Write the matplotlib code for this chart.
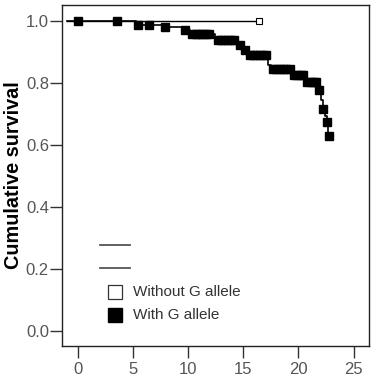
import numpy as np
import matplotlib.pyplot as plt

plt.rcParams['font.family'] = ['Liberation Sans', 'DejaVu Sans']

# Kaplan-Meier step data, "With G allele"
g_times = [-1.0, 5.3, 7.7, 9.5, 10.2, 12.4, 14.5, 15.0, 15.4, 17.2, 17.5, 19.3,
           20.6, 21.8, 22.0, 22.2, 22.4, 22.6, 22.7]
g_surv = [1.0, 0.987, 0.980, 0.971, 0.958, 0.939, 0.923, 0.906, 0.890, 0.858,
          0.844, 0.826, 0.804, 0.777, 0.745, 0.716, 0.695, 0.675, 0.630]
# censored marks, "With G allele"
g_cens_t = [0, 3.6, 5.5, 6.5, 7.9, 9.7, 10.4, 10.7, 11.0, 11.3, 11.6, 11.9, 12.7,
            13.0, 13.3, 13.6, 13.9, 14.2, 14.7, 15.2, 15.6, 15.9, 16.2, 16.5,
            16.8, 17.1, 17.7, 18.0, 18.3, 18.6, 18.9, 19.2, 19.6, 19.9, 20.2,
            20.4, 20.8, 21.1, 21.4, 21.6, 21.9, 22.2, 22.6, 22.75]
g_cens_s = [1.0, 1.0, 0.987, 0.987, 0.980, 0.971, 0.958, 0.958, 0.958, 0.958,
            0.958, 0.958, 0.939, 0.939, 0.939, 0.939, 0.939, 0.939, 0.923, 0.906,
            0.890, 0.890, 0.890, 0.890, 0.890, 0.890, 0.844, 0.844, 0.844, 0.844,
            0.844, 0.844, 0.826, 0.826, 0.826, 0.826, 0.804, 0.804, 0.804, 0.804,
            0.777, 0.716, 0.675, 0.630]

# "Without G allele"
n_times = [-1.0, 16.4]
n_surv = [1.0, 1.0]
n_cens_t = [16.4]
n_cens_s = [1.0]

fig = plt.figure(figsize=(3.74, 3.80), dpi=100)
ax = fig.add_axes([0.166, 0.0895, 0.821, 0.8975])

ax.plot(n_times, n_surv, color='black', lw=1.0, drawstyle='steps-post')
ax.plot(n_cens_t, n_cens_s, 's', ms=3.8, mfc='white', mec='black', mew=0.8)
ax.plot(g_times, g_surv, color='black', lw=1.2, drawstyle='steps-post')
ax.plot(g_cens_t, g_cens_s, 's', ms=5.2, color='black')

ax.set_xlim(-1.4, 26.4)
ax.set_ylim(-0.048, 1.052)
ax.set_xticks([0, 5, 10, 15, 20, 25])
ax.set_yticks([0.0, 0.2, 0.4, 0.6, 0.8, 1.0])
ax.set_yticklabels(['0.0', '0.2', '0.4', '0.6', '0.8', '1.0'])
ax.tick_params(length=8.5, width=1.0, color='#333333', labelcolor='#555555',
               labelsize=12)
ax.tick_params(axis='y', pad=1)
ax.tick_params(axis='x', pad=3)
for s in ax.spines.values():
    s.set_color('#222222')
    s.set_linewidth(1.0)

ax.set_ylabel('Cumulative survival', fontsize=14.3, fontweight='bold', labelpad=2)

# legend (SPSS style)
tr = ax.transAxes
ax.plot([0.124, 0.221], [0.296, 0.296], color='#555555', lw=1.3, transform=tr)
ax.plot([0.124, 0.221], [0.229, 0.229], color='#555555', lw=1.3, transform=tr)
ax.plot([0.173], [0.159], 's', ms=9.5, mfc='white', mec='#333333', mew=0.9, transform=tr)
ax.plot([0.173], [0.091], 's', ms=9.5, color='black', transform=tr)
ax.text(0.231, 0.159, 'Without G allele', fontsize=11, color='#333333', va='center', transform=tr)
ax.text(0.231, 0.091, 'With G allele', fontsize=11, color='#333333', va='center', transform=tr)

fig.savefig('out.png', dpi=100)
